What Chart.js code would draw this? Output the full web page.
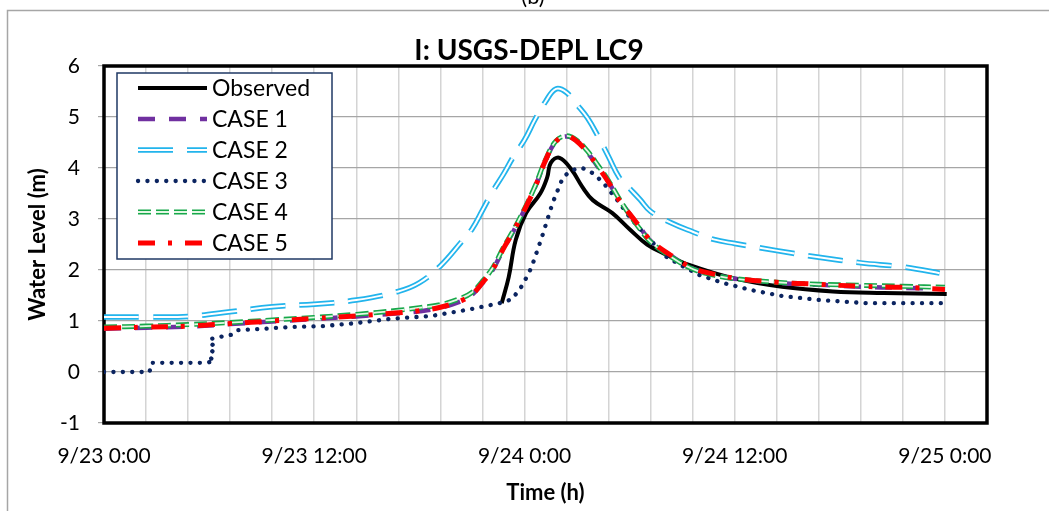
<!DOCTYPE html>
<html lang="en">
<head>
<meta charset="utf-8">
<title>I: USGS-DEPL LC9</title>
<script src="https://cdn.jsdelivr.net/npm/chart.js@4.4.1/dist/chart.umd.min.js"></script>
<style>
  html, body { margin: 0; padding: 0; background: #fff; }
</style>
</head>
<body>
<canvas id="levelChart" width="1049" height="511"></canvas>
<script>
// time axis is in hours from 9/23 0:00
const xTickLabels = ['9/23 0:00', '9/23 12:00', '9/24 0:00', '9/24 12:00', '9/25 0:00'];

// model output times, shared by cases 1, 2, 4 and 5
const modelHours = [0, 2.4, 4.8, 7.2, 9.6, 12, 14.4, 16.8, 18, 19.2, 20.4, 21, 21.6, 22.2, 22.8, 23.4, 24, 24.6,
  25.2, 25.8, 26.4, 27, 27.6, 28.2, 28.8, 29.4, 30, 30.6, 31.2, 32.4, 33.6, 34.8, 36, 38.4, 40.8, 43.2, 45.6, 48];

const case1 = [0.85, 0.87, 0.89, 0.94, 0.99, 1.04, 1.09, 1.15, 1.19, 1.26, 1.39, 1.51, 1.74, 2.01, 2.41, 2.78, 3.18, 3.62,
  4.14, 4.52, 4.62, 4.53, 4.30, 4.02, 3.72, 3.38, 3.10, 2.83, 2.57, 2.27, 2.03, 1.91, 1.83, 1.75, 1.71, 1.67, 1.65, 1.63];

const case2 = [1.08, 1.08, 1.09, 1.18, 1.28, 1.33, 1.41, 1.58, 1.75, 2.08, 2.55, 2.80, 3.17, 3.55, 3.88, 4.24, 4.55, 4.95,
  5.30, 5.55, 5.48, 5.24, 4.98, 4.62, 4.22, 3.82, 3.60, 3.38, 3.15, 2.92, 2.75, 2.60, 2.52, 2.38, 2.25, 2.14, 2.06, 1.92];

const case4 = [0.88, 0.90, 0.93, 0.97, 1.02, 1.07, 1.13, 1.21, 1.26, 1.32, 1.45, 1.56, 1.78, 2.05, 2.44, 2.80, 3.20, 3.64,
  4.16, 4.53, 4.63, 4.54, 4.33, 4.05, 3.75, 3.40, 3.08, 2.80, 2.55, 2.25, 2.02, 1.90, 1.83, 1.76, 1.72, 1.70, 1.68, 1.66];

const case5 = [0.86, 0.88, 0.90, 0.95, 1.00, 1.05, 1.10, 1.16, 1.20, 1.27, 1.40, 1.52, 1.75, 2.02, 2.42, 2.78, 3.18, 3.62,
  4.15, 4.52, 4.63, 4.52, 4.30, 4.02, 3.72, 3.37, 3.10, 2.84, 2.58, 2.28, 2.04, 1.92, 1.84, 1.76, 1.72, 1.68, 1.66, 1.62];

// case 3 has its own (irregular) output times
const case3Hours = [0, 2.6, 2.7, 5.8, 6.3, 6.0, 6.2, 6.0, 6.3, 6.1, 6.4, 6.9, 7.3, 7.6, 8.7, 10.6, 12.5, 14.4, 16.3, 18.7,
  20.9, 22.3, 22.7, 23.3, 23.9, 24.4, 25.0, 25.6, 26.2, 26.7, 27.3, 27.9, 28.5, 29.3, 30.0, 31.0, 32.1, 32.9, 34.0,
  35.3, 36.9, 38.7, 40.9, 43.5, 48.1];
const case3 = [0, 0, 0.18, 0.18, 0.21, 0.30, 0.40, 0.47, 0.57, 0.65, 0.67, 0.71, 0.73, 0.82, 0.84, 0.88, 0.90, 0.96, 1.04, 1.10,
  1.23, 1.33, 1.36, 1.43, 1.71, 2.05, 2.65, 3.31, 3.82, 3.96, 4.00, 3.90, 3.71, 3.37, 3.04, 2.65, 2.26, 2.10, 1.90,
  1.75, 1.61, 1.49, 1.41, 1.35, 1.35];

// gauge record
const obsHours = [22.7, 23.1, 23.5, 24.1, 24.9, 25.3, 25.5, 26.0, 26.7, 27.3, 27.9, 29.0, 30.0, 31.0, 32.1, 33.4, 35.9,
  38.7, 41.6, 44.5, 48.1];
const observed = [1.35, 1.86, 2.59, 3.12, 3.50, 3.82, 4.10, 4.20, 3.96, 3.63, 3.37, 3.12, 2.80, 2.50, 2.30, 2.10, 1.84,
  1.67, 1.58, 1.55, 1.53];

const X_MAX = 50.4;   // 2.1 days
const X_STEP = 2.4;   // gridline every 0.1 day

function pts(xs, ys) {
  return xs.map((x, i) => ({ x: x, y: ys[i] }));
}

function line(label, xs, ys, style) {
  return Object.assign({
    label: label,
    data: pts(xs, ys),
    pointRadius: 0,
    fill: false,
    tension: 0.4,
    borderCapStyle: 'butt'
  }, style);
}

const datasets = [
  line('Observed', obsHours, observed, { borderColor: '#000000', borderWidth: 4, order: 10, legendRow: 0 }),
  line('CASE 1', modelHours, case1, { borderColor: '#7030a0', borderWidth: 4.5, borderDash: [17, 14], order: 9, legendRow: 1 }),
  line('CASE 2', modelHours, case2, { borderColor: '#22b4ec', borderWidth: 5.5, borderDash: [35, 14], order: 8, legendRow: 2 }),
  line('', modelHours, case2, { borderColor: '#ffffff', borderWidth: 2, borderDash: [35, 14], order: 7, legendRow: 2 }),
  line('CASE 3', case3Hours, case3, { borderColor: '#0b2460', borderWidth: 4.3, borderDash: [0.1, 9.3], borderCapStyle: 'round',
    tension: 0, order: 6, legendRow: 3 }),
  line('CASE 4', modelHours, case4, { borderColor: '#17a84a', borderWidth: 5, borderDash: [13, 5], order: 5, legendRow: 4 }),
  line('', modelHours, case4, { borderColor: '#e4f7e4', borderWidth: 1.8, borderDash: [13, 5], order: 4, legendRow: 4 }),
  line('CASE 5', modelHours, case5, { borderColor: '#ff0000', borderWidth: 5, borderDash: [17, 13, 4, 13], order: 3, legendRow: 5 })
];

// background, outer frame, heading, plot border and the boxed legend
const decorations = {
  id: 'decorations',
  beforeDraw(chart) {
    const ctx = chart.ctx;
    ctx.save();
    ctx.fillStyle = '#ffffff';
    ctx.fillRect(0, 0, chart.width, chart.height);
    ctx.strokeStyle = '#a6a6a6';
    ctx.lineWidth = 1.5;
    ctx.beginPath();
    ctx.moveTo(7.5, chart.height + 2);
    ctx.lineTo(7.5, 10.5);
    ctx.lineTo(chart.width + 2, 10.5);
    ctx.stroke();
    ctx.fillStyle = '#000000';
    ctx.textAlign = 'center';
    ctx.textBaseline = 'alphabetic';
    ctx.font = '22px Lato';
    ctx.fillText('(b)', 533, 4);
    ctx.font = 'bold 28px Lato';
    ctx.fillText('I: USGS-DEPL LC9', 529, 60);
    ctx.restore();
  },
  beforeDatasetsDraw(chart) {
    const a = chart.chartArea;
    const ctx = chart.ctx;
    ctx.save();
    ctx.strokeStyle = '#000000';
    ctx.lineWidth = 3.5;
    ctx.strokeRect(a.left, a.top, a.right - a.left, a.bottom - a.top);
    ctx.restore();
  },
  afterDatasetsDraw(chart) {
    const ctx = chart.ctx;
    const box = { x: 117, y: 73, w: 215, h: 186 };
    ctx.save();
    ctx.fillStyle = '#ffffff';
    ctx.fillRect(box.x, box.y, box.w, box.h);
    ctx.strokeStyle = '#1f3864';
    ctx.lineWidth = 1.5;
    ctx.strokeRect(box.x, box.y, box.w, box.h);
    ctx.font = '23px Lato';
    ctx.textAlign = 'left';
    ctx.textBaseline = 'middle';
    chart.data.datasets.forEach(ds => {
      if (ds.legendRow === undefined) return;
      const y = 88 + ds.legendRow * 31;
      ctx.strokeStyle = ds.borderColor;
      ctx.lineWidth = ds.borderWidth;
      ctx.lineCap = ds.borderCapStyle || 'butt';
      ctx.setLineDash(ds.borderDash || []);
      ctx.beginPath();
      ctx.moveTo(138, y);
      ctx.lineTo(207, y);
      ctx.stroke();
      if (ds.label) {
        ctx.fillStyle = '#000000';
        ctx.fillText(ds.label, 212, y + 1);
      }
    });
    ctx.restore();
  }
};

new Chart(document.getElementById('levelChart'), {
  type: 'line',
  data: { datasets: datasets },
  plugins: [decorations],
  options: {
    responsive: false,
    animation: false,
    layout: { padding: { left: 0, top: 66, right: 62, bottom: 0 } },
    plugins: {
      legend: { display: false },
      title: { display: false },
      tooltip: { enabled: false }
    },
    scales: {
      x: {
        type: 'linear',
        min: 0,
        max: X_MAX,
        afterBuildTicks(scale) {
          const ticks = [];
          for (let k = 0; k * X_STEP <= X_MAX + 0.001; k++) ticks.push({ value: k * X_STEP });
          scale.ticks = ticks;
        },
        afterFit(scale) { scale.height = 88; },
        grid: { color: '#d4d4d4', lineWidth: 1.5, drawTicks: false },
        border: { display: false },
        ticks: {
          autoSkip: false,
          maxRotation: 0,
          padding: 21,
          color: '#000000',
          font: { family: 'Lato', size: 21 },
          callback(value) {
            const k = Math.round(value / X_STEP);
            return k % 5 === 0 && xTickLabels[k / 5] ? xTickLabels[k / 5] : '';
          }
        },
        title: {
          display: true,
          text: 'Time (h)',
          color: '#000000',
          font: { family: 'Lato', size: 22, weight: 'bold' },
          padding: { top: 0, bottom: 5 }
        }
      },
      y: {
        min: -1,
        max: 6,
        afterFit(scale) { scale.width = 104; },
        grid: { color: '#a6a6a6', lineWidth: 1.2, tickLength: 6 },
        border: { display: false },
        ticks: {
          stepSize: 1,
          padding: 18,
          color: '#000000',
          font: { family: 'Lato', size: 21 }
        },
        title: {
          display: true,
          text: 'Water Level (m)',
          color: '#000000',
          font: { family: 'Lato', size: 22, weight: 'bold' },
          padding: { top: 25, bottom: 0 }
        }
      }
    }
  }
});
</script>
</body>
</html>
